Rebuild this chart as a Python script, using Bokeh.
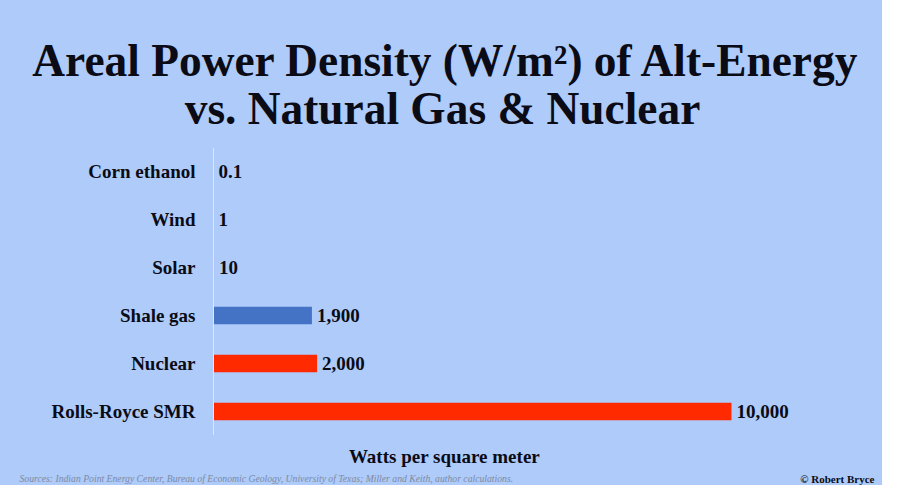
from bokeh.plotting import figure
from bokeh.models import FactorRange, Range1d, ColumnDataSource, Span
from bokeh.layouts import column
from bokeh.embed import file_html
from bokeh.resources import INLINE
from bokeh.core.properties import value

categories = ["Corn ethanol", "Wind", "Solar", "Shale gas", "Nuclear", "Rolls-Royce SMR"]
values = [0.1, 1, 10, 1900, 2000, 10000]
value_labels = ["0.1", "1", "10", "1,900", "2,000", "10,000"]
bar_colors = ["#ff2a00", "#ff2a00", "#ff2a00", "#4472c4", "#ff2a00", "#ff2a00"]

title_lines = ["Areal Power Density (W/m²) of Alt-Energy", "vs. Natural Gas & Nuclear"]
x_label = "Watts per square meter"
sources = ("Sources: Indian Point Energy Center, Bureau of Economic Geology, "
           "University of Texas; Miller and Keith, author calculations.")
credit = "© Robert Bryce"

BG = "#aecbfa"
INK = "#0b0b16"
FONT = "Liberation Serif"
W = 882
H_HEAD, H_MAIN, H_FOOT = 147, 288, 50
AXIS_PX = 213          # pixel position of the value axis (x = 0)
PX_PER_10K = 518       # pixels per 10,000 W/m2


def style(f):
    f.grid.visible = False
    f.outline_line_color = None
    f.background_fill_color = BG
    f.border_fill_color = BG
    f.styles = {"background-color": BG}
    return f


def panel(height):
    f = figure(width=W, height=height, x_range=Range1d(0, W), y_range=Range1d(height, 0),
               x_axis_location=None, y_axis_location=None,
               output_backend="svg", toolbar_location=None, min_border=0)
    return style(f)


# header with the two title lines
head = panel(H_HEAD)
head.text(x=[446, 442], y=[60, 108], text=title_lines, text_align="center",
          text_baseline="alphabetic", text_font=value(FONT), text_font_style="bold",
          text_font_size="45.4px", text_color=INK)

# main bar chart (value axis at x = 0)
x_start = -AXIS_PX / PX_PER_10K * 10000
x_end = (W - AXIS_PX) / PX_PER_10K * 10000
src = ColumnDataSource(dict(cat=categories, val=values, lbl=value_labels, color=bar_colors,
                            zero=[0] * len(categories)))
p = figure(width=W, height=H_MAIN,
           y_range=FactorRange(*reversed(categories)),
           x_range=Range1d(x_start, x_end),
           x_axis_location=None, y_axis_location=None,
           output_backend="svg", toolbar_location=None, min_border=0)
style(p)

p.add_layout(Span(location=0, dimension="height", line_color="#dde7f7", line_width=1))

p.hbar(y="cat", right="val", left="zero", height=0.36, fill_color="color",
       line_color=None, source=src)
p.text(x="val", y="cat", text="lbl", x_offset=5, text_baseline="middle",
       text_font=value(FONT), text_font_style="bold", text_font_size="19px",
       text_color=INK, source=src)
p.text(x="zero", y="cat", text="cat", x_offset=-18, text_align="right",
       text_baseline="middle", text_font=value(FONT), text_font_style="bold",
       text_font_size="19px", text_color=INK, source=src)

# footer: axis title, sources, credit
foot = panel(H_FOOT)
foot.text(x=[444], y=[21], text=[x_label], text_align="center", text_baseline="alphabetic",
          text_font=value(FONT), text_font_style="bold", text_font_size="19px", text_color=INK)
foot.text(x=[19], y=[43], text=[sources], text_align="left", text_baseline="alphabetic",
          text_font=value(FONT), text_font_style="italic", text_font_size="9.7px",
          text_color="#7d8aa3")
foot.text(x=[874], y=[43], text=[credit], text_align="right", text_baseline="alphabetic",
          text_font=value(FONT), text_font_style="bold", text_font_size="11px", text_color=INK)

layout = column(head, p, foot, spacing=0)
layout.styles = {"background-color": BG}
open("out.html", "w").write(file_html(layout, INLINE))
